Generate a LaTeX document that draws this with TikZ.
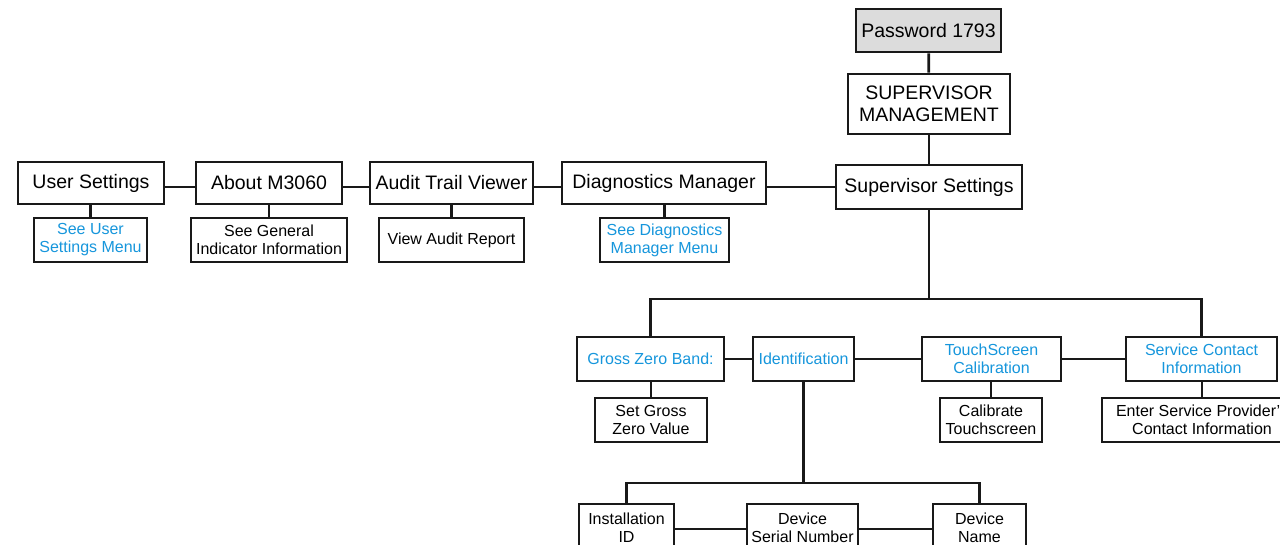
\documentclass[tikz,border=0pt]{standalone}
\usepackage{fontspec}
\setmainfont{Liberation Sans}
\definecolor{linkblue}{RGB}{22,150,220}
\definecolor{pwgray}{RGB}{220,220,220}
\begin{document}
\begin{tikzpicture}[x=1pt,y=-1pt,
  box/.style={draw=black!90, line width=2.8pt, rectangle, inner sep=0pt, align=center},
  big/.style={box, font=\fontsize{19.5}{22}\selectfont},
  small/.style={box, font=\fontsize{16}{18}\selectfont},
  link/.style={small, text=linkblue},
  conn/.style={draw=black!90, line width=2.8pt}]
\useasboundingbox (0,0) rectangle (1280,545);
\clip (0,0) rectangle (1280,545);
\fill[white] (0,0) rectangle (1280,545);

% top column
\node[big, fill=pwgray, minimum width=145, minimum height=43] (pw) at (928.5,30.5) {Password 1793};
\node[big, minimum width=162, minimum height=60] (sm) at (929,104) {SUPERVISOR\\MANAGEMENT};
\node[big, minimum width=186, minimum height=44] (ss) at (929,187) {Supervisor Settings};

% top row
\node[big, minimum width=146, minimum height=42] (us) at (91,183) {User Settings};
\node[big, minimum width=146, minimum height=42] (ab) at (269,183) {About M3060};
\node[big, minimum width=163, minimum height=42] (at) at (451.5,183) {Audit Trail Viewer};
\node[big, minimum width=204, minimum height=42] (dm) at (664,183) {Diagnostics Manager};

\node[link, minimum width=113, minimum height=44] (usc) at (90.5,240) {See User\\Settings Menu};
\node[small, minimum width=156, minimum height=44] (abc) at (269,240) {See General\\Indicator Information};
\node[small, minimum width=145, minimum height=44] (atc) at (451.5,240) {View Audit Report};
\node[link, minimum width=129, minimum height=44] (dmc) at (664.5,240) {See Diagnostics\\Manager Menu};

% second row
\node[link, minimum width=147, minimum height=44] (gzb) at (650.5,359) {Gross Zero Band:};
\node[link, minimum width=101, minimum height=44] (idn) at (803.5,359) {Identification};
\node[link, minimum width=139, minimum height=44] (tsc) at (991.5,359) {TouchScreen\\Calibration};
\node[link, minimum width=151, minimum height=44] (sci) at (1201.5,359) {Service Contact\\Information};

\node[small, minimum width=112, minimum height=44] (gzbc) at (651,420) {Set Gross\\Zero Value};
\node[small, minimum width=102, minimum height=44] (tscc) at (991,420) {Calibrate\\Touchscreen};
\node[small, minimum width=200, minimum height=44] (scic) at (1202,420) {Enter Service Provider's\\Contact Information};

% bottom row
\node[small, minimum width=95, minimum height=48] (inst) at (626.5,528) {Installation\\ID};
\node[small, minimum width=111, minimum height=48] (dsn) at (802.5,528) {Device\\Serial Number};
\node[small, minimum width=93, minimum height=48] (dname) at (979.5,528) {Device\\Name};

\coordinate (bus) at (929,299);
\coordinate (idbus) at (803.5,483);

% connectors
\draw[conn] (pw) -- (sm);
\draw[conn] (sm) -- (ss);
\draw[conn] ([yshift=-4pt]us.east) -- ([yshift=-4pt]ab.west);
\draw[conn] ([yshift=-4pt]ab.east) -- ([yshift=-4pt]at.west);
\draw[conn] ([yshift=-4pt]at.east) -- ([yshift=-4pt]dm.west);
\draw[conn] ([yshift=-4pt]dm.east) -- (ss.west);
\draw[conn] (usc.north) -- (usc.north |- us.south);
\draw[conn] (abc.north) -- (abc.north |- ab.south);
\draw[conn] (atc.north) -- (atc.north |- at.south);
\draw[conn] (dmc.north) -- (dmc.north |- dm.south);

\draw[conn] (ss.south) -- (bus);
\draw[conn] (gzb.north) |- (bus) -| (sci.north);
\draw[conn] (gzb) -- (idn);
\draw[conn] (idn) -- (tsc);
\draw[conn] (tsc) -- (sci);
\draw[conn] (gzbc.north) -- (gzbc.north |- gzb.south);
\draw[conn] (tscc.north) -- (tscc.north |- tsc.south);
\draw[conn] (scic.north) -- (scic.north |- sci.south);

\draw[conn] (idn.south) -- (idbus);
\draw[conn] (inst.north) |- (idbus) -| (dname.north);
\draw[conn] ([yshift=-1pt]inst.east) -- ([yshift=-1pt]dsn.west);
\draw[conn] ([yshift=-1pt]dsn.east) -- ([yshift=-1pt]dname.west);
\end{tikzpicture}
\end{document}
